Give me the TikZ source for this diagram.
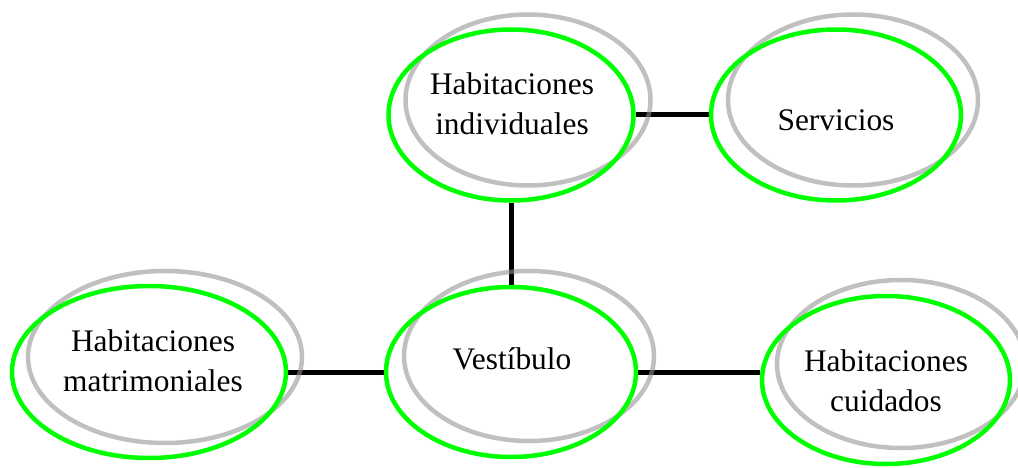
\documentclass[tikz,border=0pt]{standalone}
\usepackage{fontspec}
\setmainfont{Liberation Serif}
\usetikzlibrary{shapes.geometric,positioning,calc}
\pgfdeclarelayer{background}
\pgfsetlayers{background,main}
\definecolor{ringgreen}{RGB}{0,255,0}
\definecolor{ringgray}{RGB}{146,146,146}

\begin{document}
\begin{tikzpicture}[
x=1pt, y=-1pt,
green-ring/.style = {ellipse, draw=ringgreen, line width=4.5pt, inner sep=0pt},
gray-ring/.style = {ellipse, draw=ringgray, draw opacity=0.58, line width=4.5pt, inner sep=0pt},
room-text/.style = {align=center, font=\fontsize{31.4}{40}\selectfont, inner sep=0pt},
link/.style = {draw=black, line width=5pt}
]
\useasboundingbox (0,0) rectangle (1018,468);
\clip (0,0) rectangle (1018,468);

% back rings
\node [gray-ring, minimum width=245pt, minimum height=171pt] (ind-back) at (528,100) {};
\node [gray-ring, minimum width=250pt, minimum height=171pt] (serv-back) at (853,100) {};
\node [gray-ring, minimum width=250pt, minimum height=170pt] (ves-back) at (529,356) {};
\node [gray-ring, minimum width=274pt, minimum height=172pt] (mat-back) at (165,357) {};
\node [gray-ring, minimum width=248pt, minimum height=168pt] (cuid-back) at (901,364) {};

% front rings
\node [green-ring, minimum width=245pt, minimum height=171pt] (ind) at (511,115) {};
\node [green-ring, minimum width=250pt, minimum height=171pt] (serv) at (836,115) {};
\node [green-ring, minimum width=250pt, minimum height=170pt] (ves) at (511,372) {};
\node [green-ring, minimum width=274pt, minimum height=172pt] (mat) at (149,372) {};
\node [green-ring, minimum width=248pt, minimum height=168pt] (cuid) at (886,380) {};

% texts
\node [room-text] (ind-text) at (512,104) {Habitaciones\\individuales};
\node [room-text] (serv-text) at (836,120) {Servicios};
\node [room-text] (ves-text) at (512,359) {Vestíbulo};
\node [room-text] (mat-text) at (153,361) {Habitaciones\\matrimoniales};
\node [room-text] (cuid-text) at (886,381) {Habitaciones\\cuidados};

% links
\begin{pgfonlayer}{background}
\draw[link] (ind) -- (serv);
\draw[link] (ind) -- (ves);
\draw[link] (mat) -- (ves);
\draw[link] (ves) -- (ves -| cuid.west);
\end{pgfonlayer}

\end{tikzpicture}
\end{document}
